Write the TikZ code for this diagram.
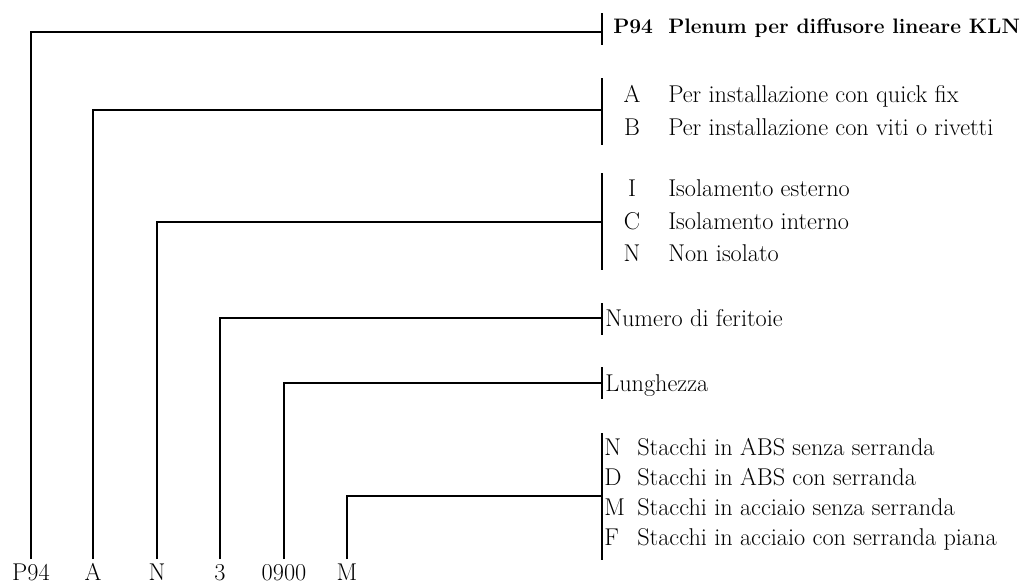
\documentclass[tikz,border=0pt]{standalone}
\begin{document}
\begin{tikzpicture}[x=0.75pt,y=-0.75pt,
  wire/.style={line width=1.6pt},
  txt/.style={anchor=base west, inner sep=0pt, font=\fontsize{18.2}{22}\selectfont},
  key/.style={anchor=base, inner sep=0pt, font=\fontsize{18.2}{22}\selectfont},
  ttl/.style={anchor=base west, inner sep=0pt, font=\fontsize{15.7}{19}\selectfont\bfseries},
  code/.style={anchor=base, inner sep=0pt, text height=15.4pt, text depth=0pt,
    font=\fontsize{18.2}{22}\selectfont}]
\useasboundingbox (0,0) rectangle (1021,583);

% code segments along the bottom
\node[code] (cP) at (31,580) {P94};
\node[code] (cA) at (93,580) {A};
\node[code] (cN) at (157,580) {N};
\node[code] (cF) at (220,580) {3};
\node[code] (cL) at (284,580) {0900};
\node[code] (cM) at (347,580) {M};

% bracket bars and junctions
\coordinate (bP1) at (602,13);  \coordinate (bP2) at (602,45);  \coordinate (jP) at (602,32);
\coordinate (bA1) at (602,78);  \coordinate (bA2) at (602,145); \coordinate (jA) at (602,110);
\coordinate (bN1) at (602,173); \coordinate (bN2) at (602,270); \coordinate (jN) at (602,222);
\coordinate (bF1) at (602,303); \coordinate (bF2) at (602,335); \coordinate (jF) at (602,318);
\coordinate (bL1) at (602,367); \coordinate (bL2) at (602,399); \coordinate (jL) at (602,383);
\coordinate (bM1) at (602,433); \coordinate (bM2) at (602,560); \coordinate (jM) at (602,496);

\foreach \g in {P,A,N,F,L,M}{
  \draw[wire] (b\g1) -- (b\g2);
  \draw[wire] (c\g.north) |- (j\g);
}

% P94
\node[ttl] (tP) at (613,33) {P94};
\node[ttl] (tP1) at (668,33) {Plenum per diffusore lineare KLN};

% A / B
\node[key] (kA) at (632,102) {A};
\node[txt] (tA) at (668,102) {Per installazione con quick fix};
\node[key] (kB) at (632,135) {B};
\node[txt] (tB) at (668,135) {Per installazione con viti o rivetti};

% I / C / N
\node[key] (kI) at (632,196) {I};
\node[txt] (tI) at (668,196) {Isolamento esterno};
\node[key] (kC) at (632,229) {C};
\node[txt] (tC) at (668,229) {Isolamento interno};
\node[key] (kN) at (632,261) {N};
\node[txt] (tN) at (668,261) {Non isolato};

% number of slots and length
\node[txt] (tF) at (605,326) {Numero di feritoie};
\node[txt] (tL) at (605,391) {Lunghezza};

% N / D / M / F
\node[txt] (kM1) at (604,455) {N};
\node[txt] (tM1) at (637,455) {Stacchi in ABS senza serranda};
\node[txt] (kM2) at (604,485) {D};
\node[txt] (tM2) at (637,485) {Stacchi in ABS con serranda};
\node[txt] (kM3) at (604,515) {M};
\node[txt] (tM3) at (637,515) {Stacchi in acciaio senza serranda};
\node[txt] (kM4) at (604,545) {F};
\node[txt] (tM4) at (637,545) {Stacchi in acciaio con serranda piana};
\end{tikzpicture}
\end{document}
